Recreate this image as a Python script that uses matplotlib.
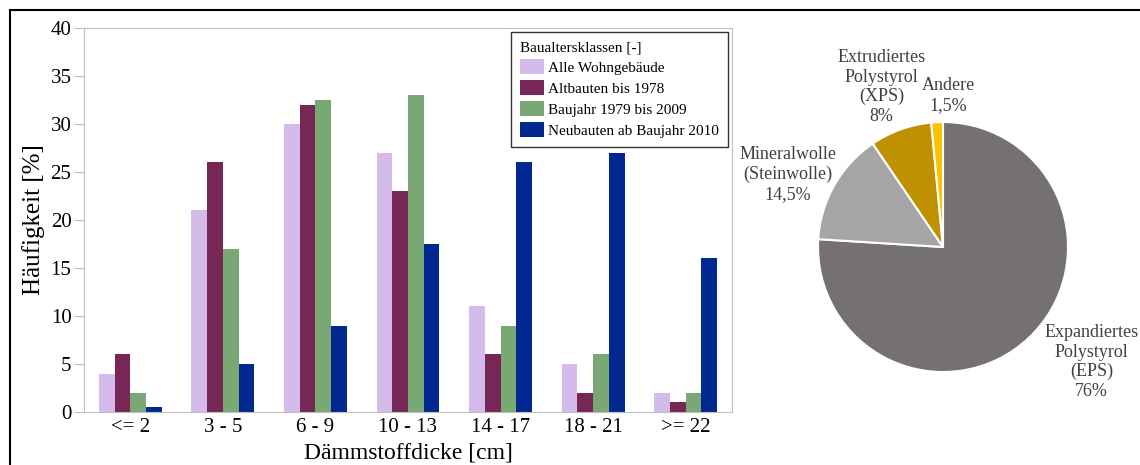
import numpy as np
import matplotlib.pyplot as plt
from matplotlib.lines import Line2D

plt.rcParams['font.family'] = ['Liberation Serif', 'DejaVu Serif']

# Balkendiagramm: Häufigkeit der Dämmstoffdicke je Baualtersklasse
kategorien = ['<= 2', '3 - 5', '6 - 9', '10 - 13', '14 - 17', '18 - 21', '>= 22']
alle = [4, 21, 30, 27, 11, 5, 2]
altbauten = [6, 26, 32, 23, 6, 2, 1]
baujahr_79_09 = [2, 17, 32.5, 33, 9, 6, 2]
neubauten = [0.5, 5, 9, 17.5, 26, 27, 16]
serien = ['Alle Wohngebäude', 'Altbauten bis 1978', 'Baujahr 1979 bis 2009',
          'Neubauten ab Baujahr 2010']
farben = ['#d5bbec', '#772756', '#79a874', '#00288e']

# Kreisdiagramm: Anteile der Dämmstoffe
stoffe = ['Expandiertes\nPolystyrol\n(EPS)\n76%', 'Mineralwolle\n(Steinwolle)\n14,5%',
          'Extrudiertes\nPolystyrol\n(XPS)\n8%', 'Andere\n1,5%']
anteile = [76, 14.5, 8, 1.5]
pie_farben = ['#767171', '#a5a5a5', '#bf9000', '#ffc000']
label_pos = [(1.19, -0.92), (-1.24, 0.58), (-0.49, 1.28), (0.04, 1.21)]

fig = plt.figure(figsize=(11.4, 4.65), dpi=100)

# äußerer Rahmen (nur oben und links sichtbar)
fig.add_artist(Line2D([10/1140, 1], [1 - 10/465, 1 - 10/465], color='black', lw=1.5))
fig.add_artist(Line2D([10/1140, 10/1140], [0, 1 - 10/465], color='black', lw=1.5))

ax = fig.add_axes([84/1140, 53/465, 648/1140, 384/465])
x = np.arange(len(kategorien))
w = 0.17
for i, (werte, name, c) in enumerate(zip([alle, altbauten, baujahr_79_09, neubauten], serien, farben)):
    ax.bar(x + (i - 1.5) * w, werte, w, color=c, label=name)

ax.set_xlim(-0.5, len(kategorien) - 0.5)
ax.set_ylim(0, 40)
ax.set_yticks(range(0, 41, 5))
ax.set_xticks(x)
ax.set_xticklabels(kategorien)
ax.tick_params(axis='x', length=0, labelsize=15, pad=4)
ax.tick_params(axis='y', length=7, color='#bfbfbf', labelsize=15, pad=2)
for s in ax.spines.values():
    s.set_color('#bfbfbf')
ax.set_ylabel('Häufigkeit [%]', fontsize=18, labelpad=4)
ax.set_xlabel('Dämmstoffdicke [cm]', fontsize=17, labelpad=4)

leg = ax.legend(title='Baualtersklassen [-]', loc='upper right', fontsize=11,
                title_fontsize=11, frameon=True, fancybox=False, edgecolor='black',
                handlelength=1.6, handleheight=1.1, handletextpad=0.25,
                labelspacing=0.35, borderpad=0.6, borderaxespad=0,
                bbox_to_anchor=(0.994, 0.99))
leg._legend_box.align = 'left'
leg.get_frame().set_linewidth(1.0)

# Kreisdiagramm
pax = fig.add_axes([818/1140, 93/465, 250/1140, 250/465])
wedges, _ = pax.pie(anteile, colors=pie_farben, startangle=90, counterclock=False,
                    wedgeprops=dict(edgecolor='white', linewidth=1.5))
pax.set_xlim(-1, 1)
pax.set_ylim(-1, 1)
pax.set_aspect('equal')
for txt, (px, py) in zip(stoffe, label_pos):
    pax.text(px, py, txt, ha='center', va='center', fontsize=13, color='#404040',
             linespacing=1.2)

plt.savefig('out.png')
